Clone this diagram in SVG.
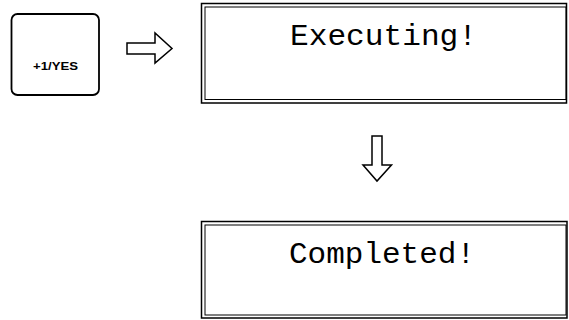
<svg xmlns="http://www.w3.org/2000/svg" width="569" height="320" viewBox="0 0 569 320">
<style>
.frame{fill:none;stroke:#000;}
.lcd{font-family:"Liberation Mono","DejaVu Sans Mono",monospace;font-size:30px;fill:#000;}
.btn{font-family:"Liberation Sans",Arial,sans-serif;font-size:11px;font-weight:bold;fill:#000;}
.arrow{fill:#fff;stroke:#000;stroke-width:1.5;stroke-linejoin:miter;}
</style>
<rect width="569" height="320" fill="#fff"/>
<g id="button">
<rect class="frame" x="11.5" y="14" width="87.5" height="81" rx="6" stroke-width="1.8"/>
<text class="btn" x="33" y="70" textLength="45" lengthAdjust="spacingAndGlyphs">+1/YES</text>
</g>
<g id="display-executing">
<rect class="frame" x="201.5" y="3.5" width="365" height="99.5" stroke-width="1.5"/>
<rect class="frame" x="205" y="7" width="361" height="92.5" stroke-width="1"/>
<text class="lcd" x="290" y="45" textLength="187" lengthAdjust="spacingAndGlyphs">Executing!</text>
</g>
<g id="display-completed">
<rect class="frame" x="201.5" y="221.5" width="365.5" height="96.5" stroke-width="1.5"/>
<rect class="frame" x="205" y="225" width="361" height="90" stroke-width="1"/>
<text class="lcd" x="289" y="263" textLength="186" lengthAdjust="spacingAndGlyphs">Completed!</text>
</g>
<g id="connectors">
<path class="arrow" d="M127,43 L155,43 L155,33 L172,48.5 L155,63 L155,54 L127,54 Z"/>
<path class="arrow" d="M372,136 L382,136 L382,165 L391.5,165 L377,181 L363,165 L372,165 Z"/>
</g>
</svg>
